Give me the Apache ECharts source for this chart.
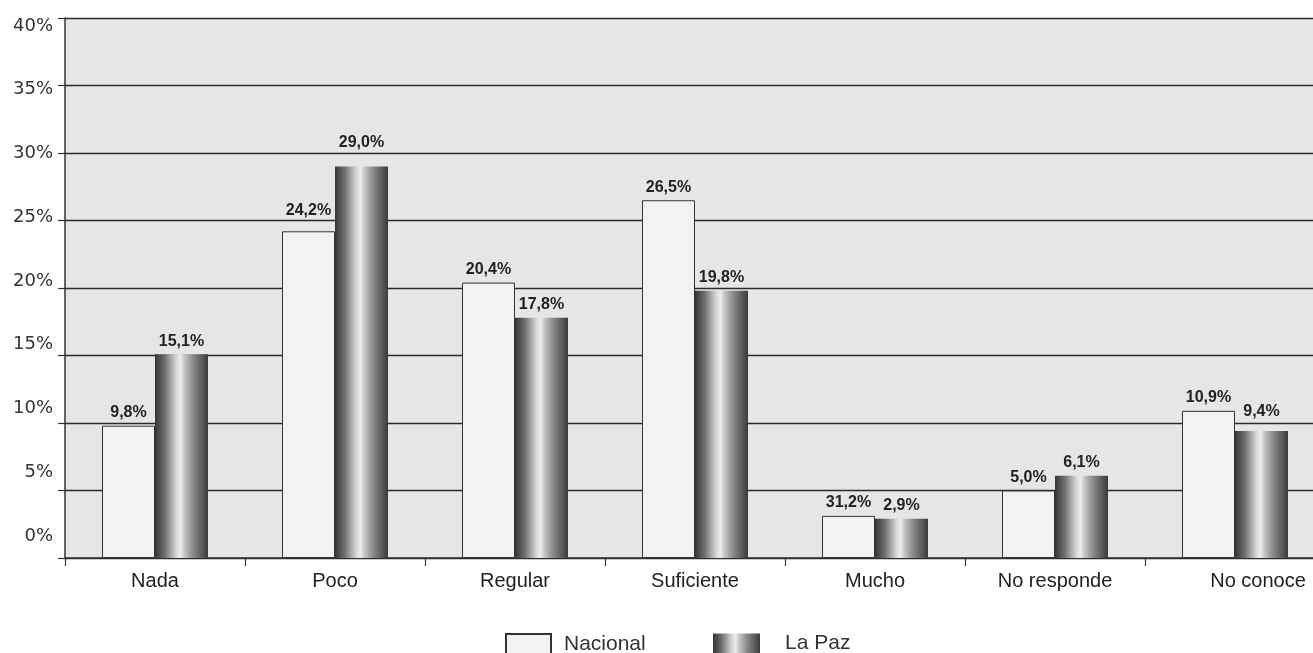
<!DOCTYPE html>
<html>
<head>
<meta charset="utf-8">
<style>
  html, body { margin: 0; padding: 0; background: #ffffff; overflow: hidden; }
  #chart { width: 1313px; height: 653px; }
</style>
<script src="https://cdn.jsdelivr.net/npm/echarts@6/dist/echarts.min.js"></script>
</head>
<body>
<div id="chart"></div>
<script>
// Categories of the answer scale
const categories = ['Nada', 'Poco', 'Regular', 'Suficiente', 'Mucho', 'No responde', 'No conoce'];

// Percentages per group
const nacional = [9.8, 24.2, 20.4, 26.5, 3.12, 5.0, 10.9];
const laPaz = [15.1, 29.0, 17.8, 19.8, 2.9, 6.1, 9.4];

// Printed labels for the Nacional group (the "Mucho" one is printed as 31,2%)
const nacionalLabels = ['9,8%', '24,2%', '20,4%', '26,5%', '31,2%', '5,0%', '10,9%'];

// Y axis tick labels
const yTicks = [0, 5, 10, 15, 20, 25, 30, 35, 40];

const SANS = '"Liberation Sans", Arial, sans-serif';
const WIDE = '"DejaVu Sans", sans-serif';

const chart = echarts.init(document.getElementById('chart'), null, { renderer: 'canvas' });

const metalGradient = new echarts.graphic.LinearGradient(0, 0, 1, 0, [
  { offset: 0.00, color: '#353535' },
  { offset: 0.18, color: '#6e6e6e' },
  { offset: 0.40, color: '#d6d6d6' },
  { offset: 0.48, color: '#ececec' },
  { offset: 0.56, color: '#c4c4c4' },
  { offset: 0.72, color: '#8a8a8a' },
  { offset: 1.00, color: '#3a3a3a' }
]);

const fmtComma = v => v.toFixed(1).replace('.', ',') + '%';

// label spacing above bars (a few labels sit higher)
const baseDist = 5;
const nacionalDist = [baseDist, 13, baseDist, baseDist, baseDist, baseDist, baseDist];
const laPazDist = [baseDist, 16, baseDist, baseDist, baseDist, baseDist, 12];

const valueLabel = {
  show: true, position: 'top',
  fontSize: 16, fontWeight: 'bold', color: '#222', fontFamily: SANS
};

chart.setOption({
  backgroundColor: '#ffffff',
  animation: false,
  textStyle: { fontFamily: SANS },
  grid: {
    // plot runs a little past the right edge of the canvas
    left: 65, width: 1260, top: 18, bottom: 95,
    outerBoundsMode: 'none', containLabel: false,
    show: true, backgroundColor: '#e5e6e8', borderWidth: 0
  },
  legend: [
    {
      left: 505, top: 633, padding: 0,
      icon: 'rect', itemWidth: 45, itemHeight: 20,
      textStyle: { fontSize: 21, color: '#333', fontFamily: SANS, padding: [0, 0, 0, 8] },
      data: ['Nacional']
    },
    {
      left: 713, top: 633, padding: 0,
      icon: 'rect', itemWidth: 47, itemHeight: 20,
      textStyle: { fontSize: 21, color: '#333', fontFamily: SANS, padding: [0, 0, 0, 20] },
      data: ['La Paz']
    }
  ],
  xAxis: {
    type: 'category',
    data: categories,
    axisLine: { lineStyle: { color: '#333', width: 1.5 } },
    axisTick: { show: true, length: 8, lineStyle: { color: '#333', width: 1.2 } },
    axisLabel: {
      interval: 0, hideOverlap: false,
      fontSize: 20, color: '#222', margin: 13, fontFamily: SANS,
      formatter: (v, i) => (i === categories.length - 1 ? '{last|' + v + '}' : v),
      rich: { last: { fontSize: 20, color: '#222', fontFamily: SANS, padding: [0, 0, 0, 46] } }
    }
  },
  yAxis: [
    {
      type: 'value', min: 0, max: 40, interval: 5,
      axisLine: { show: true, lineStyle: { color: '#333', width: 1.5 } },
      axisTick: { show: true, length: 7, lineStyle: { color: '#333', width: 1.2 } },
      axisLabel: { show: false },
      splitLine: { show: true, lineStyle: { color: '#2b2b2b', width: 1.4 } }
    },
    {
      // label-only axis; tick text sits on a slightly compressed scale
      type: 'value', position: 'left', min: -1.725, max: 40.63,
      axisLine: { show: false },
      axisTick: { show: false },
      splitLine: { show: false },
      axisLabel: {
        customValues: yTicks,
        formatter: v => Math.round(v) + '%',
        fontSize: 18, color: '#333', margin: 12, fontFamily: WIDE
      }
    }
  ],
  series: [
    {
      name: 'Nacional',
      type: 'bar',
      yAxisIndex: 0,
      data: nacional.map((v, i) => ({ value: v, label: { distance: nacionalDist[i] } })),
      barWidth: 53,
      barGap: '0%',
      itemStyle: { color: '#f1f2f4', borderColor: '#333', borderWidth: 1 },
      label: Object.assign({}, valueLabel, { formatter: p => nacionalLabels[p.dataIndex] })
    },
    {
      name: 'La Paz',
      type: 'bar',
      yAxisIndex: 0,
      data: laPaz.map((v, i) => ({ value: v, label: { distance: laPazDist[i] } })),
      barWidth: 53,
      itemStyle: { color: metalGradient },
      label: Object.assign({}, valueLabel, { formatter: p => fmtComma(p.value) })
    }
  ]
});
</script>
</body>
</html>
